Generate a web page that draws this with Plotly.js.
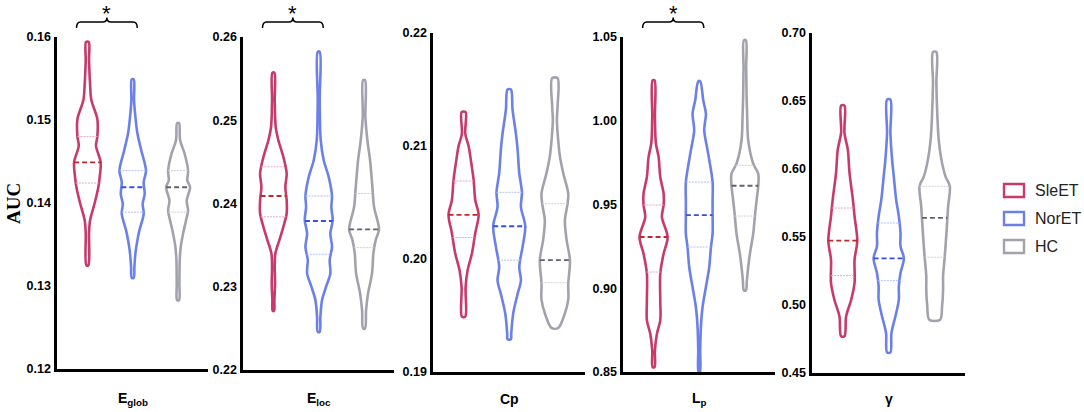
<!DOCTYPE html>
<html>
<head>
<meta charset="utf-8">
<script src="https://cdn.plot.ly/plotly-3.0.1.min.js"></script>
<style>html,body{margin:0;padding:0;background:#fff;}#chart{width:1084px;height:412px;}</style>
</head>
<body>
<div id="chart"></div>
<script>
// ---------- DATA ----------
const groups = ['SleET', 'NorET', 'HC'];
const metricLabels = ['<b>E<sub>glob</sub></b>', '<b>E<sub>loc</sub></b>', '<b>Cp</b>', '<b>L<sub>p</sub></b>', '<b>γ</b>'];
const yRanges = [[0.12, 0.16], [0.22, 0.26], [0.19, 0.22], [0.85, 1.05], [0.45, 0.70]];
const yTicks = [0.01, 0.01, 0.01, 0.05, 0.05];

// violin outlines: y values and relative density (half-width)
const eglobSleY = [0.1594, 0.1572, 0.1544, 0.1524, 0.1501, 0.1480, 0.1469, 0.1449, 0.1431, 0.1419, 0.1400, 0.1379, 0.1363, 0.1325];
const eglobSleW = [4, 5, 8, 12, 30, 30, 26, 40, 37, 33, 22, 8, 5, 3];
const eglobNorY = [0.1549, 0.1524, 0.1504, 0.1484, 0.1463, 0.1439, 0.1425, 0.1411, 0.1399, 0.1387, 0.1367, 0.1355, 0.1339, 0.1323, 0.1310];
const eglobNorW = [3, 4, 8, 14, 26, 40, 33, 36, 30, 33, 20, 14, 8, 5, 3];
const eglobHcY = [0.1496, 0.1476, 0.1459, 0.1439, 0.1427, 0.1419, 0.1403, 0.1391, 0.1379, 0.1363, 0.1347, 0.1331, 0.1303, 0.1283];
const eglobHcW = [3, 6, 20, 30, 28, 36, 26, 30, 24, 15, 8, 5, 4, 3];

const elocSleY = [0.2557, 0.2524, 0.2492, 0.2476, 0.2456, 0.2436, 0.2420, 0.2404, 0.2388, 0.2372, 0.2356, 0.2340, 0.2324, 0.2304, 0.2284, 0.2271];
const elocSleW = [3, 4, 7, 15, 30, 40, 36, 40, 40, 30, 18, 6, 4, 5, 3, 2];
const elocNorY = [0.2582, 0.2524, 0.2476, 0.2452, 0.2432, 0.2409, 0.2396, 0.2380, 0.2364, 0.2348, 0.2332, 0.2316, 0.2300, 0.2284, 0.2264, 0.2246];
const elocNorW = [3, 3, 6, 15, 30, 40, 38, 42, 35, 40, 33, 35, 22, 10, 5, 3];
const elocHcY = [0.2548, 0.2504, 0.2476, 0.2452, 0.2420, 0.2396, 0.2369, 0.2356, 0.2340, 0.2316, 0.2292, 0.2272, 0.2250];
const elocHcW = [3, 4, 10, 18, 25, 30, 45, 35, 28, 24, 12, 6, 3];

const cpSleY = [0.2130, 0.2111, 0.2100, 0.2091, 0.2070, 0.2052, 0.2039, 0.2023, 0.2005, 0.1990, 0.1975, 0.1949];
const cpSleW = [6, 5, 15, 20, 30, 35, 45, 35, 25, 12, 6, 5];
const cpNorY = [0.2150, 0.2132, 0.2111, 0.2097, 0.2076, 0.2059, 0.2046, 0.2029, 0.2011, 0.1993, 0.1981, 0.1969, 0.1952, 0.1934, 0.1929];
const cpNorW = [5, 10, 20, 25, 30, 38, 35, 48, 40, 30, 35, 25, 12, 6, 5];
const cpHcY = [0.2160, 0.2135, 0.2123, 0.2105, 0.2091, 0.2076, 0.2058, 0.2049, 0.2034, 0.2017, 0.1999, 0.1978, 0.1964, 0.1952, 0.1939];
const cpHcW = [8, 8, 6, 10, 15, 25, 40, 38, 30, 35, 45, 40, 40, 30, 10];

const lpSleY = [1.0241, 1.0022, 0.9863, 0.9784, 0.9664, 0.9565, 0.9497, 0.9425, 0.9306, 0.9206, 0.9087, 0.8928, 0.8808, 0.8729, 0.8629, 0.8530];
const lpSleW = [3, 4, 7, 15, 20, 30, 30, 25, 42, 30, 20, 20, 20, 10, 4, 3];
const lpNorY = [1.0235, 1.0122, 1.0042, 0.9943, 0.9823, 0.9634, 0.9525, 0.9437, 0.9326, 0.9246, 0.9127, 0.9007, 0.8888, 0.8769, 0.8629, 0.8500];
const lpNorW = [3, 12, 20, 15, 25, 40, 40, 40, 40, 35, 30, 20, 10, 5, 3, 2];
const lpHcY = [1.0480, 1.0321, 1.0162, 1.0022, 0.9883, 0.9744, 0.9684, 0.9612, 0.9525, 0.9431, 0.9326, 0.9206, 0.9127, 0.9047, 0.8988];
const lpHcW = [3, 4, 5, 7, 10, 25, 40, 40, 35, 30, 25, 15, 10, 6, 3];

const gammaSleY = [0.6466, 0.6265, 0.6142, 0.5971, 0.5775, 0.5652, 0.5473, 0.5333, 0.5162, 0.5039, 0.4917, 0.4770];
const gammaSleW = [5, 5, 15, 20, 30, 35, 43, 35, 35, 25, 10, 5];
const gammaNorY = [0.6510, 0.6265, 0.6069, 0.5946, 0.5775, 0.5652, 0.5529, 0.5431, 0.5343, 0.5235, 0.5137, 0.5039, 0.4917, 0.4794, 0.4652];
const gammaNorW = [5, 5, 10, 15, 22, 30, 35, 35, 45, 35, 30, 30, 20, 8, 5];
const gammaHcY = [0.6860, 0.6632, 0.6387, 0.6216, 0.6069, 0.5946, 0.5873, 0.5725, 0.5529, 0.5358, 0.5211, 0.5113, 0.4990, 0.4892];
const gammaHcW = [5, 5, 8, 12, 20, 32, 45, 40, 35, 30, 25, 25, 22, 16];

// quartiles: [Q1, median, Q3]
const eglobSleQ = [0.1424, 0.1449, 0.1480];
const eglobNorQ = [0.1389, 0.1419, 0.1439];
const eglobHcQ = [0.1389, 0.1419, 0.1439];
const elocSleQ = [0.2384, 0.2409, 0.2444];
const elocNorQ = [0.2339, 0.2379, 0.2409];
const elocHcQ = [0.2347, 0.2369, 0.2412];
const cpSleQ = [0.2019, 0.2039, 0.2069];
const cpNorQ = [0.1999, 0.2029, 0.2059];
const cpHcQ = [0.1979, 0.1999, 0.2049];
const lpSleQ = [0.9097, 0.9306, 0.9497];
const lpNorQ = [0.9246, 0.9437, 0.9634];
const lpHcQ = [0.9431, 0.9612, 0.9734];
const gammaSleQ = [0.5216, 0.5473, 0.5713];
const gammaNorQ = [0.5179, 0.5343, 0.5603];
const gammaHcQ = [0.5351, 0.5640, 0.5873];

// significant pairs (SleET vs NorET) per metric
const significant = [true, true, false, true, false];

// ---------- STYLE ----------
const outlineColors = ['#c83a69', '#6b80e8', '#a2a2ad'];
const medianColors = ['#c0282f', '#3550dc', '#62626f'];
const quartColors = ['#e6a9bb', '#b5c1f3', '#cfcfd6'];
const widthScale = 1 / 136.5;

const violins = [
  [[eglobSleY, eglobSleW, eglobSleQ], [eglobNorY, eglobNorW, eglobNorQ], [eglobHcY, eglobHcW, eglobHcQ]],
  [[elocSleY, elocSleW, elocSleQ], [elocNorY, elocNorW, elocNorQ], [elocHcY, elocHcW, elocHcQ]],
  [[cpSleY, cpSleW, cpSleQ], [cpNorY, cpNorW, cpNorQ], [cpHcY, cpHcW, cpHcQ]],
  [[lpSleY, lpSleW, lpSleQ], [lpNorY, lpNorW, lpNorQ], [lpHcY, lpHcW, lpHcQ]],
  [[gammaSleY, gammaSleW, gammaSleQ], [gammaNorY, gammaNorW, gammaNorQ], [gammaHcY, gammaHcW, gammaHcQ]]
];

// panel geometry (pixels in the 1084x412 figure)
const W = 1084, H = 412;
const panelX = [[57, 208], [243, 394], [433, 585], [623, 775], [812, 965]];
const panelY = [[37, 369], [37, 370], [33, 372], [37, 372], [33, 373]];
const xRange = [-0.67, 2.66];

function widthAt(ys, ws, y) {
  for (let i = 0; i < ys.length - 1; i++) {
    const a = ys[i], b = ys[i + 1];
    if ((y <= a && y >= b)) {
      const t = (a - y) / (a - b);
      return ws[i] + t * (ws[i + 1] - ws[i]);
    }
  }
  return ws[ws.length - 1];
}

const traces = [];
const layout = {
  width: W, height: H,
  margin: {l: 0, r: 0, t: 0, b: 0},
  paper_bgcolor: '#fff', plot_bgcolor: 'rgba(0,0,0,0)',
  showlegend: false,
  font: {family: 'Liberation Sans, Arial, sans-serif', color: '#000'},
  shapes: [], annotations: []
};

violins.forEach((panel, p) => {
  const xa = 'x' + (p === 0 ? '' : p + 1);
  const ya = 'y' + (p === 0 ? '' : p + 1);
  panel.forEach((v, g) => {
    const [ys, ws, qs] = v;
    const xs = [], yy = [];
    for (let i = 0; i < ys.length; i++) { xs.push(g + ws[i] * widthScale); yy.push(ys[i]); }
    for (let i = ys.length - 1; i >= 0; i--) { xs.push(g - ws[i] * widthScale); yy.push(ys[i]); }
    xs.push(xs[0]); yy.push(yy[0]);
    traces.push({
      type: 'scatter', mode: 'lines', x: xs, y: yy, xaxis: xa, yaxis: ya,
      fill: 'toself', fillcolor: 'rgba(255,255,255,0)',
      line: {color: outlineColors[g], width: 2.6, shape: 'spline', smoothing: 0.9},
      hoverinfo: 'skip', name: groups[g]
    });
    qs.forEach((q, k) => {
      const hw = widthAt(ys, ws, q) * widthScale;
      traces.push({
        type: 'scatter', mode: 'lines', x: [g - hw, g + hw], y: [q, q], xaxis: xa, yaxis: ya,
        line: k === 1 ? {color: medianColors[g], width: 1.8, dash: '5px,3px'} : {color: quartColors[g], width: 1, dash: '2px,1px'},
        hoverinfo: 'skip'
      });
    });
  });

  const dom = [panelX[p][0] / W, panelX[p][1] / W];
  const ydom = [1 - panelY[p][1] / H, 1 - panelY[p][0] / H];
  layout['xaxis' + (p === 0 ? '' : p + 1)] = {
    domain: dom, range: xRange, anchor: ya, showticklabels: false, ticks: '',
    showline: true, linecolor: '#000', linewidth: 2.6, showgrid: false, zeroline: false, fixedrange: true
  };
  layout['yaxis' + (p === 0 ? '' : p + 1)] = {
    domain: ydom, range: yRanges[p], anchor: xa, dtick: yTicks[p], tick0: 0, tickformat: '.2f',
    ticks: 'outside', ticklen: 1, tickcolor: 'rgba(0,0,0,0)',
    tickfont: {family: 'Liberation Sans, Arial, sans-serif', size: 12.5, weight: 'bold', color: '#000'},
    showline: true, linecolor: '#000', linewidth: 2.6, showgrid: false, zeroline: false, fixedrange: true
  };
  layout.annotations.push({
    xref: 'paper', yref: 'paper', x: (panelX[p][0] + panelX[p][1]) / 2 / W, y: 1 - 399 / H,
    text: metricLabels[p], showarrow: false, xanchor: 'center', yanchor: 'middle',
    font: {family: 'Liberation Sans, Arial, sans-serif', size: 14, color: '#000'}
  });

  if (significant[p]) {
    const x0 = -0.24, x1 = 1.10, xm = (x0 + x1) / 2, d = 0.09;
    const yl = 1 - 22 / H, ye = 1 - 28 / H, yt = 1 - 17.5 / H;
    layout.shapes.push({
      type: 'path', xref: xa, yref: 'paper',
      path: `M ${x0},${ye} Q ${x0},${yl} ${x0 + d},${yl} L ${xm - d},${yl} Q ${xm},${yl} ${xm},${yt} Q ${xm},${yl} ${xm + d},${yl} L ${x1 - d},${yl} Q ${x1},${yl} ${x1},${ye}`,
      line: {color: '#000', width: 1.5}
    });
    layout.annotations.push({
      xref: xa, yref: 'paper', x: xm, y: 1, text: '*', showarrow: false,
      xanchor: 'center', yanchor: 'top', borderpad: 0,
      font: {family: 'Liberation Sans, Arial, sans-serif', size: 22, color: '#000'}
    });
  }
});

// y-axis title
layout.annotations.push({
  xref: 'paper', yref: 'paper', x: 13 / W, y: 1 - 204 / H, text: '<b>AUC</b>', textangle: -90,
  showarrow: false, xanchor: 'center', yanchor: 'middle',
  font: {family: 'Liberation Serif, Times New Roman, serif', size: 19, color: '#000'}
});

// legend (boxes + labels)
const legendTop = [184, 212, 240];
groups.forEach((g, i) => {
  layout.shapes.push({
    type: 'rect', xref: 'paper', yref: 'paper',
    x0: 1004 / W, x1: 1024 / W, y0: 1 - (legendTop[i] + 13) / H, y1: 1 - legendTop[i] / H,
    line: {color: outlineColors[i], width: 2.4}, fillcolor: 'rgba(255,255,255,0)'
  });
  layout.annotations.push({
    xref: 'paper', yref: 'paper', x: 1033 / W, y: 1 - (legendTop[i] + 6.5) / H, text: g,
    showarrow: false, xanchor: 'left', yanchor: 'middle',
    font: {family: 'Liberation Sans, Arial, sans-serif', size: 16, color: '#222'}
  });
});

Plotly.newPlot('chart', traces, layout, {staticPlot: true, displayModeBar: false});
</script>
</body>
</html>
